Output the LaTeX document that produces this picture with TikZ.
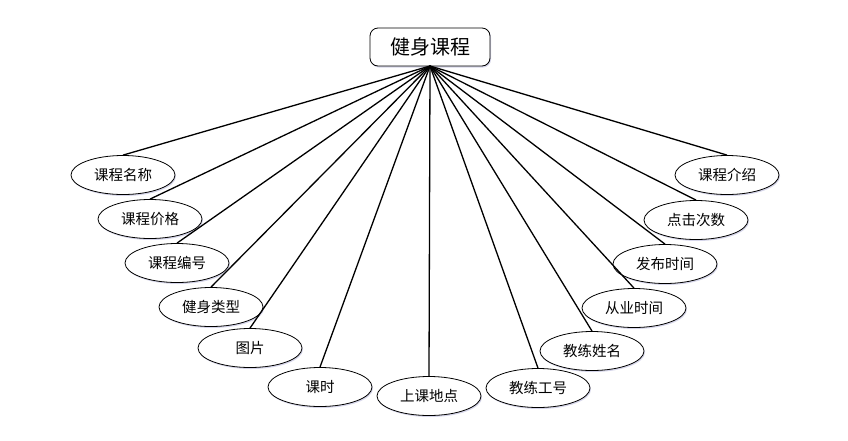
\documentclass[tikz,border=0pt]{standalone}
\usepackage{fontspec}
\setmainfont{Noto Sans CJK SC}
\usetikzlibrary{shapes.geometric,shadows}
\begin{document}
\begin{tikzpicture}[x=1pt,y=-1pt,
  attr/.style={ellipse,draw=black,line width=0.8pt,fill=white,minimum width=104pt,minimum height=39pt,inner sep=0pt,font=\fontsize{14.5}{16}\selectfont,
    drop shadow={shadow xshift=1pt,shadow yshift=-1.5pt,fill=blue!30!gray,opacity=0.25}},
  ent/.style={rectangle,rounded corners=8pt,draw=black,line width=0.8pt,fill=white,minimum width=120pt,minimum height=38pt,inner sep=0pt,font=\fontsize{20}{22}\selectfont,
    drop shadow={shadow xshift=1pt,shadow yshift=-1.5pt,fill=blue!30!gray,opacity=0.25}},
  link/.style={line width=1.3pt,black}]
\useasboundingbox (0,0) rectangle (848,440);
\node[ent] (e) at (430,47) {健身课程};
\coordinate (hub) at (430,66);
\node[attr] (a1) at (123,175) {课程名称};
\node[attr] (a2) at (150,219) {课程价格};
\node[attr] (a3) at (177,263) {课程编号};
\node[attr] (a4) at (211,307) {健身类型};
\node[attr] (a5) at (250,348) {图片};
\node[attr] (a6) at (320,387) {课时};
\node[attr] (a7) at (429,396) {上课地点};
\node[attr] (a8) at (538,388) {教练工号};
\node[attr] (a9) at (592,351) {教练姓名};
\node[attr] (a10) at (634,308) {从业时间};
\node[attr] (a11) at (665,264) {发布时间};
\node[attr] (a12) at (696,220) {点击次数};
\node[attr] (a13) at (727,175) {课程介绍};
\foreach \i in {1,...,13}{\draw[link] (hub) -- (a\i.north);}
\end{tikzpicture}
\end{document}
